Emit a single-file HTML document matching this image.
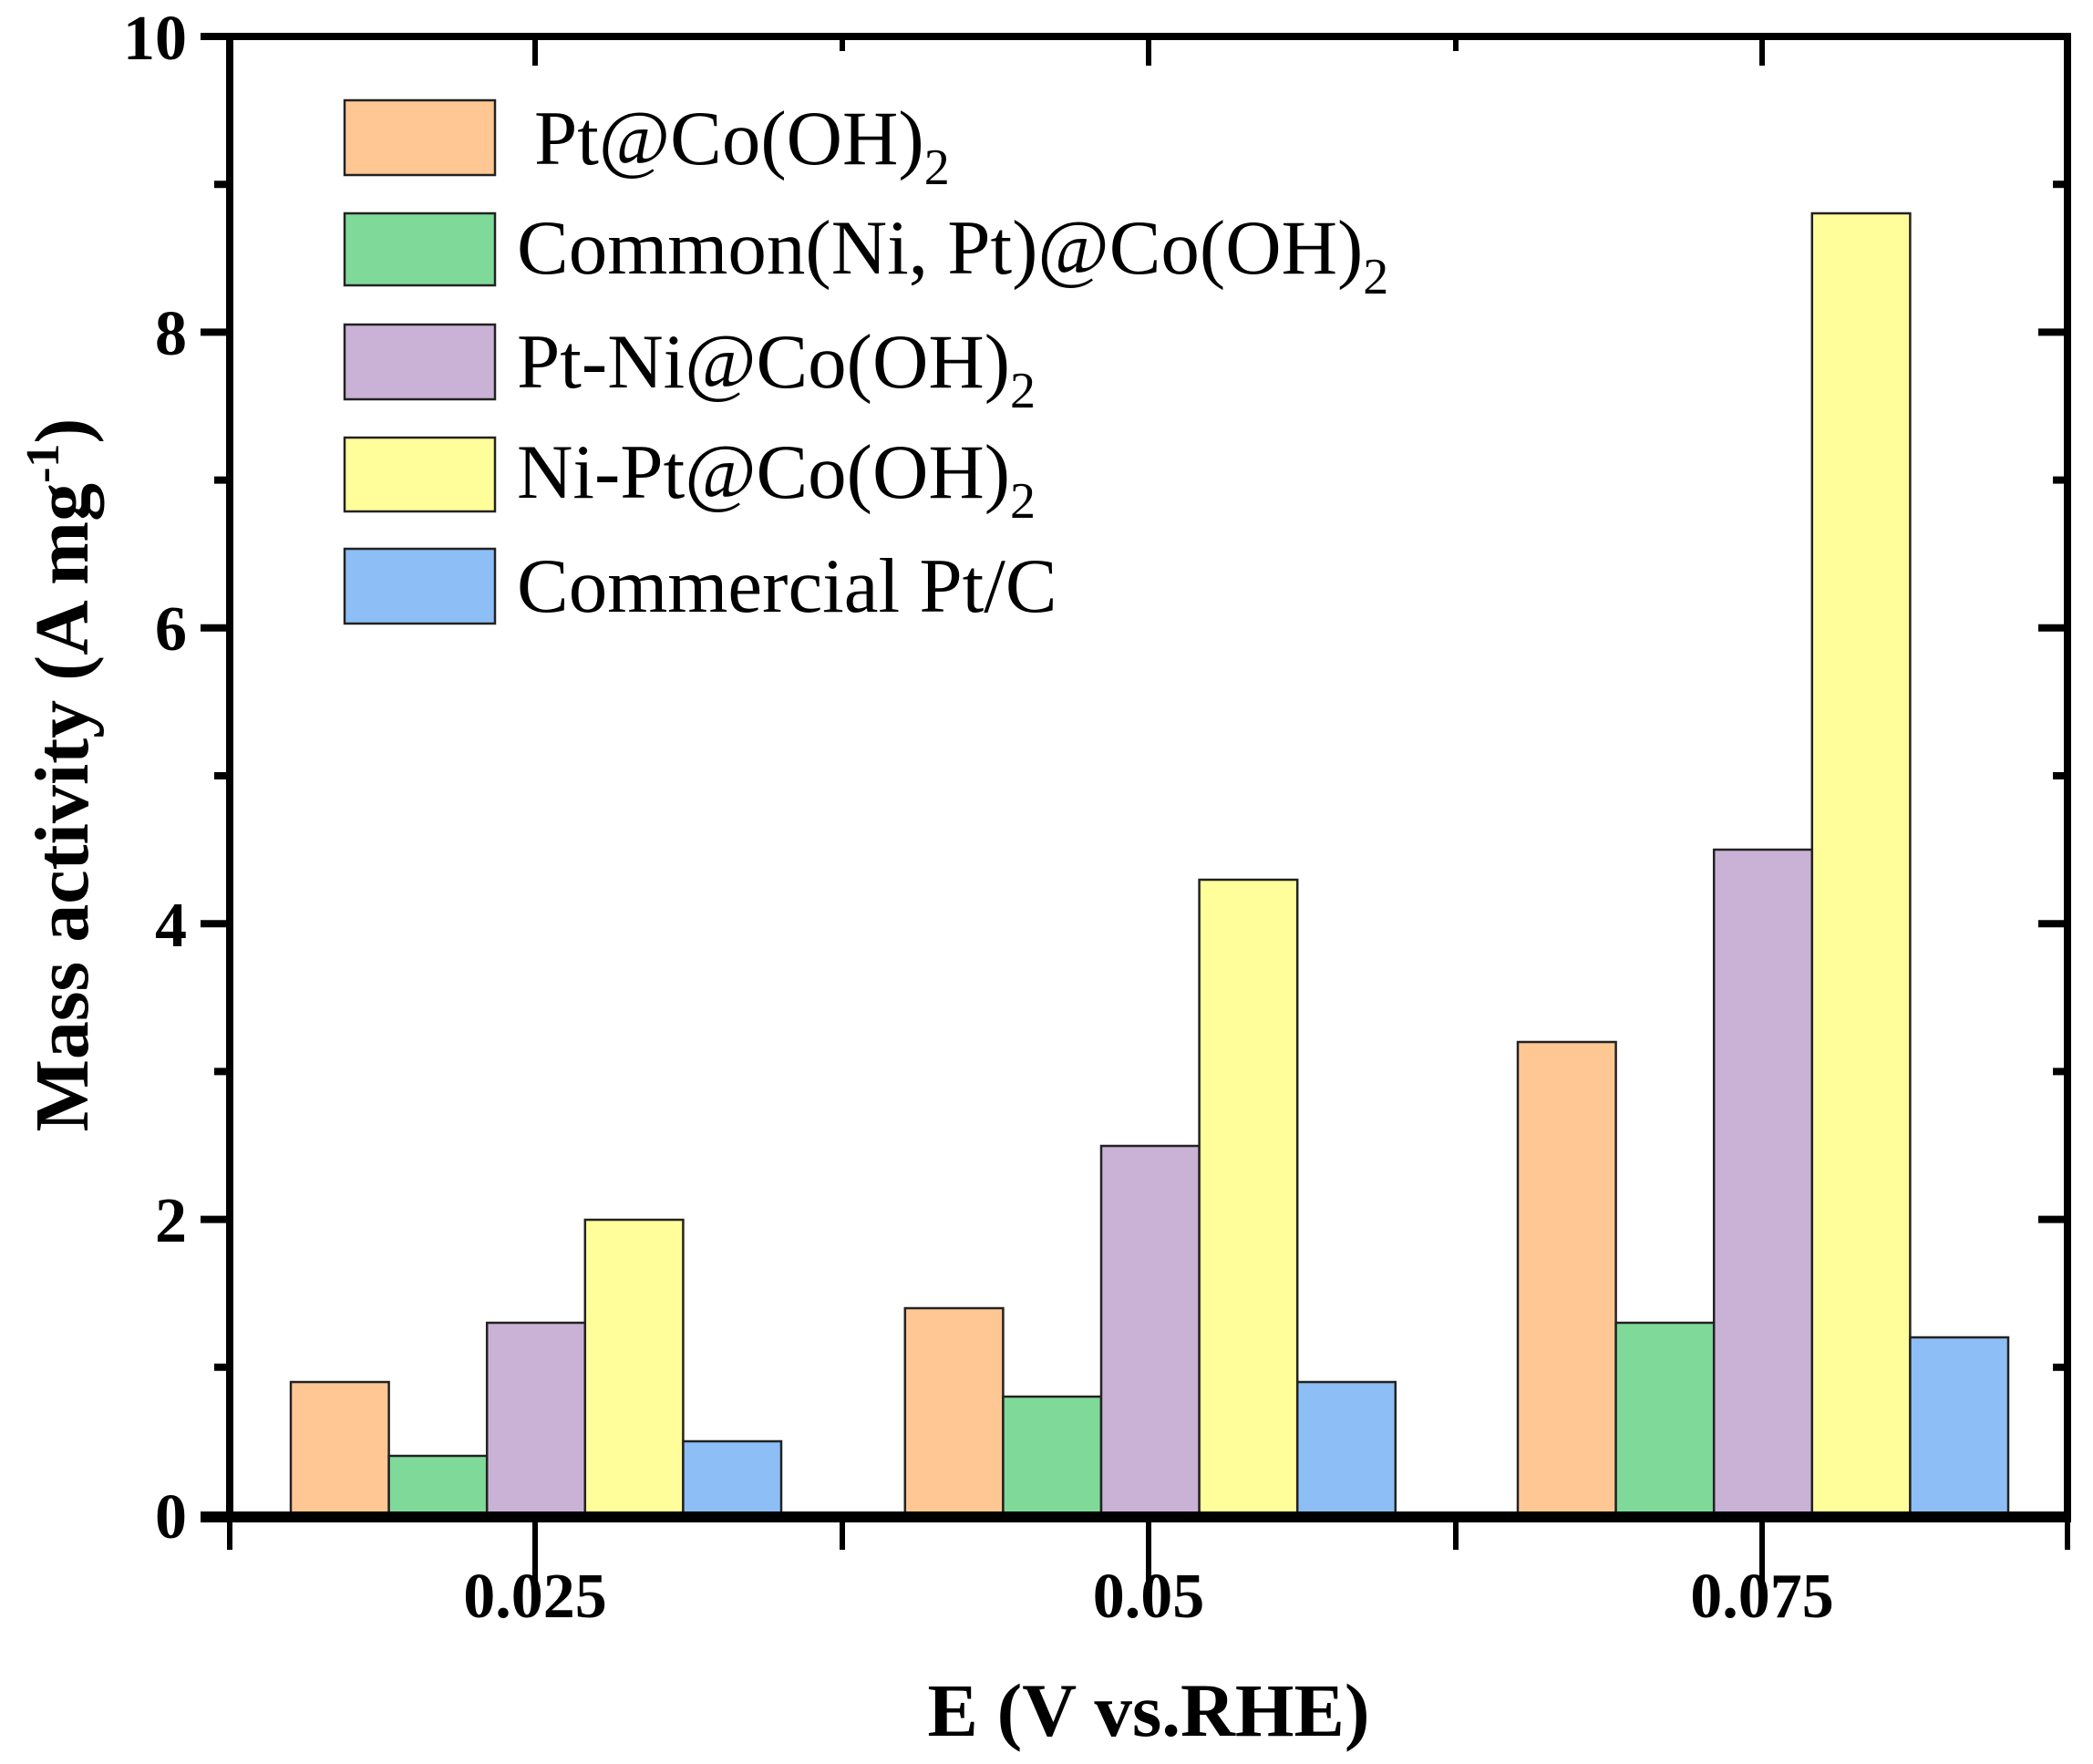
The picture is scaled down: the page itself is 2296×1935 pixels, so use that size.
<!DOCTYPE html>
<html><head><meta charset="utf-8"><style>
html,body{margin:0;padding:0;background:#fff;}
svg{display:block;}
text{font-family:"Liberation Serif","Times New Roman",serif;fill:#000;}
.b{font-weight:bold;}
</style></head><body>
<svg width="2296" height="1935" viewBox="0 0 2296 1935" xmlns="http://www.w3.org/2000/svg">
<g stroke="#222" stroke-width="2.5">
<rect x="319" y="1516" width="107.6" height="146" fill="#FFC794"/>
<rect x="426.6" y="1597" width="107.6" height="65" fill="#7FDA9A"/>
<rect x="534.2" y="1451" width="107.6" height="211" fill="#C9B2D6"/>
<rect x="641.8" y="1338" width="107.6" height="324" fill="#FFFE9A"/>
<rect x="749.4" y="1581" width="107.6" height="81" fill="#8DBEF5"/>
<rect x="992.8" y="1435" width="107.6" height="227" fill="#FFC794"/>
<rect x="1100.4" y="1532" width="107.6" height="130" fill="#7FDA9A"/>
<rect x="1208" y="1257" width="107.6" height="405" fill="#C9B2D6"/>
<rect x="1315.6" y="965" width="107.6" height="697" fill="#FFFE9A"/>
<rect x="1423.2" y="1516" width="107.6" height="146" fill="#8DBEF5"/>
<rect x="1665" y="1143" width="107.6" height="519" fill="#FFC794"/>
<rect x="1772.6" y="1451" width="107.6" height="211" fill="#7FDA9A"/>
<rect x="1880.2" y="932" width="107.6" height="730" fill="#C9B2D6"/>
<rect x="1987.8" y="234" width="107.6" height="1428" fill="#FFFE9A"/>
<rect x="2095.4" y="1467" width="107.6" height="195" fill="#8DBEF5"/>
</g>
<rect x="252" y="40" width="2016" height="1622" fill="none" stroke="#000" stroke-width="8"/>
<line x1="220" y1="1664" x2="2272" y2="1664" stroke="#000" stroke-width="12"/>
<g stroke="#000" stroke-width="6">
<line x1="587" y1="1662" x2="587" y2="1735"/>
<line x1="1260" y1="1662" x2="1260" y2="1735"/>
<line x1="1933" y1="1662" x2="1933" y2="1735"/>
<line x1="252" y1="1662" x2="252" y2="1700"/>
<line x1="924" y1="1662" x2="924" y2="1700"/>
<line x1="1597" y1="1662" x2="1597" y2="1700"/>
<line x1="2268" y1="1662" x2="2268" y2="1700"/>
<line x1="587" y1="40" x2="587" y2="72"/>
<line x1="1260" y1="40" x2="1260" y2="72"/>
<line x1="1933" y1="40" x2="1933" y2="72"/>
<line x1="924" y1="40" x2="924" y2="56"/>
<line x1="1597" y1="40" x2="1597" y2="56"/>
</g>
<g stroke="#000" stroke-width="8">
<line x1="220" y1="1337.6" x2="252" y2="1337.6"/>
<line x1="220" y1="1013.2" x2="252" y2="1013.2"/>
<line x1="220" y1="688.8" x2="252" y2="688.8"/>
<line x1="220" y1="364.4" x2="252" y2="364.4"/>
<line x1="220" y1="40" x2="252" y2="40"/>
<line x1="235" y1="1499.8" x2="252" y2="1499.8"/>
<line x1="235" y1="1175.4" x2="252" y2="1175.4"/>
<line x1="235" y1="851" x2="252" y2="851"/>
<line x1="235" y1="526.6" x2="252" y2="526.6"/>
<line x1="235" y1="202.2" x2="252" y2="202.2"/>
<line x1="2236" y1="1337.6" x2="2268" y2="1337.6"/>
<line x1="2236" y1="1013.2" x2="2268" y2="1013.2"/>
<line x1="2236" y1="688.8" x2="2268" y2="688.8"/>
<line x1="2236" y1="364.4" x2="2268" y2="364.4"/>
<line x1="2252" y1="1499.8" x2="2268" y2="1499.8"/>
<line x1="2252" y1="1175.4" x2="2268" y2="1175.4"/>
<line x1="2252" y1="851" x2="2268" y2="851"/>
<line x1="2252" y1="526.6" x2="2268" y2="526.6"/>
<line x1="2252" y1="202.2" x2="2268" y2="202.2"/>
</g>
<g font-size="70" text-anchor="end">
<text x="205" y="1687" class="b">0</text>
<text x="205" y="1362" class="b">2</text>
<text x="205" y="1038" class="b">4</text>
<text x="205" y="713" class="b">6</text>
<text x="205" y="389" class="b">8</text>
<text x="205" y="65" class="b">10</text>
</g>
<g font-size="70" text-anchor="middle">
<text x="587" y="1774" class="b">0.025</text>
<text x="1260" y="1774" class="b">0.05</text>
<text x="1933" y="1774" class="b">0.075</text>
</g>
<text x="1260" y="1904" font-size="83" text-anchor="middle" class="b">E (V vs.RHE)</text>
<text transform="translate(96,850) rotate(-90)" font-size="84" text-anchor="middle" class="b">Mass activity (A mg<tspan dy="-32" font-size="52">-1</tspan><tspan dy="32">)</tspan></text>
<g stroke="#222" stroke-width="2.5">
<rect x="378" y="110" width="165" height="82" fill="#FFC794"/>
<rect x="378" y="234" width="165" height="79" fill="#7FDA9A"/>
<rect x="378" y="356" width="165" height="82" fill="#C9B2D6"/>
<rect x="378" y="480" width="165" height="81" fill="#FFFE9A"/>
<rect x="378" y="602" width="165" height="82" fill="#8DBEF5"/>
</g>
<g font-size="85">
<text x="586" y="180">Pt@Co(OH)<tspan dy="22" font-size="56">2</tspan></text>
<text x="567" y="300">Common(Ni, Pt)@Co(OH)<tspan dy="22" font-size="56">2</tspan></text>
<text x="567" y="425">Pt-Ni@Co(OH)<tspan dy="22" font-size="56">2</tspan></text>
<text x="567" y="546">Ni-Pt@Co(OH)<tspan dy="22" font-size="56">2</tspan></text>
<text x="567" y="671">Commercial Pt/C</text>
</g>
</svg>
</body></html>
